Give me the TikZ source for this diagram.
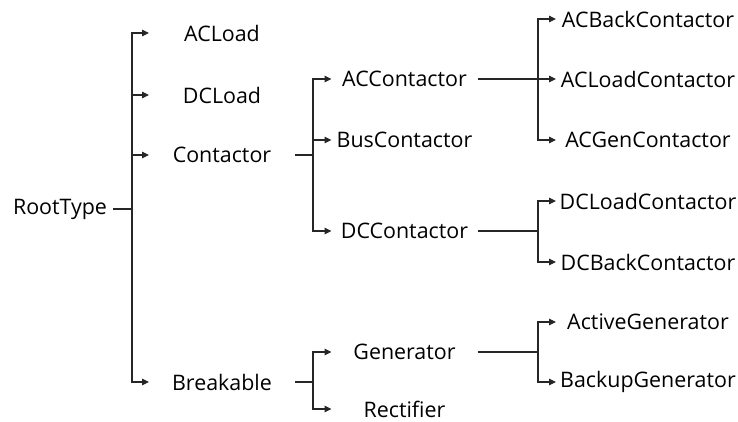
\documentclass[tikz,border=0pt]{standalone}
\usepackage{fontspec}
\setmainfont{Open Sans}
\usetikzlibrary{arrows.meta}
\begin{document}
\begin{tikzpicture}[x=1pt,y=-1pt,
  lbl/.style={inner sep=0pt, outer sep=0pt, font=\fontsize{21.4}{25}\selectfont, anchor=center},
  c1/.style={lbl, minimum width=146pt},
  c2/.style={lbl, minimum width=146pt},
  c3/.style={lbl, minimum width=184pt},
  link/.style={line width=1.1pt, draw=black!85},
  arr/.style={link, -{Triangle[length=7pt,width=6.5pt]}}]
\useasboundingbox (0,0) rectangle (738,421);
% nodes
\node[lbl, minimum width=106pt] (root) at (60,209) {RootType};
\node[c1] (acload) at (222,33) {ACLoad};
\node[c1] (dcload) at (222,95) {DCLoad};
\node[c1] (contactor) at (222,155) {Contactor};
\node[c1] (breakable) at (222,382) {Breakable};
\node[c2] (acc) at (404.5,79) {ACContactor};
\node[c2] (busc) at (404.5,140) {BusContactor};
\node[c2] (dcc) at (404.5,231) {DCContactor};
\node[c2] (gen) at (404.5,352) {Generator};
\node[c2] (rect) at (404.5,409) {Rectifier};
\node[c3] (acbc) at (648,19) {ACBackContactor};
\node[c3] (aclc) at (648,79) {ACLoadContactor};
\node[c3] (acgc) at (648,140) {ACGenContactor};
\node[c3] (dclc) at (648,201) {DCLoadContactor};
\node[c3] (dcbc) at (648,262) {DCBackContactor};
\node[c3] (actg) at (648,322) {ActiveGenerator};
\node[c3] (bkg) at (648,382) {BackupGenerator};
% junctions
\coordinate (j0) at (132,209);
\coordinate (j1) at (313,155);
\coordinate (j2) at (313,382);
\coordinate (j3) at (538,79);
\coordinate (j4) at (538,231);
\coordinate (j5) at (538,352);
% connectors
\draw[link] (root.east) -- (j0);
\foreach \n in {acload,dcload,contactor,breakable} \draw[arr] (j0) |- (\n.west);
\draw[link] (contactor.east) -- (j1);
\foreach \n in {acc,busc,dcc} \draw[arr] (j1) |- (\n.west);
\draw[link] (breakable.east) -- (j2);
\foreach \n in {gen,rect} \draw[arr] (j2) |- (\n.west);
\draw[link] (acc.east) -- (j3);
\foreach \n in {acbc,aclc,acgc} \draw[arr] (j3) |- (\n.west);
\draw[link] (dcc.east) -- (j4);
\foreach \n in {dclc,dcbc} \draw[arr] (j4) |- (\n.west);
\draw[link] (gen.east) -- (j5);
\foreach \n in {actg,bkg} \draw[arr] (j5) |- (\n.west);
\end{tikzpicture}
\end{document}
